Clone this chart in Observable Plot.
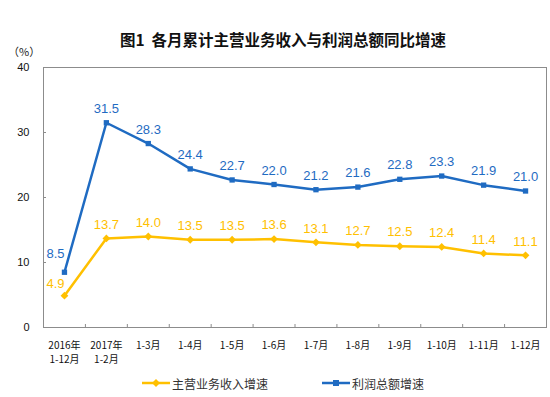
<!DOCTYPE html>
<html><head><meta charset="utf-8">
<script src="https://cdn.jsdelivr.net/npm/d3@7"></script>
<script src="https://cdn.jsdelivr.net/npm/@observablehq/plot@0.6"></script>
<style>
body{margin:0;background:#fff;}
#wrap{position:relative;width:550px;height:397px;font-family:"Liberation Sans",Arial,sans-serif;overflow:hidden;}
#title{position:absolute;left:8px;width:550px;top:29px;text-align:center;font:bold 15.5px "Noto Sans CJK SC";color:#111;line-height:20px;}
#unit{position:absolute;left:8px;top:45px;font:11px "Noto Sans CJK SC";color:#222;line-height:13px;}
#legend{position:absolute;left:0;top:374px;width:550px;height:18px;font:12px "Noto Sans CJK SC";color:#333;}
#legend .it{position:absolute;top:0;display:flex;align-items:center;}
#legend svg{margin-right:2px;}
</style></head>
<body><div id="wrap">
<div id="chart"></div>
<div id="title">图1&nbsp;&nbsp;各月累计主营业务收入与利润总额同比增速</div>
<div id="unit">（%）</div>
<div id="legend"></div>
</div>
<script>
const categories = ["2016年\n1-12月","2017年\n1-2月","1-3月","1-4月","1-5月","1-6月","1-7月","1-8月","1-9月","1-10月","1-11月","1-12月"];
const revenue = [4.9,13.7,14.0,13.5,13.5,13.6,13.1,12.7,12.5,12.4,11.4,11.1];
const profit = [8.5,31.5,28.3,24.4,22.7,22.0,21.2,21.6,22.8,23.3,21.9,21.0];
const yTicks = [0,10,20,30,40];
const seriesNames = ["主营业务收入增速","利润总额增速"];
const yellow = "#FFC000", blue = "#1F6BC2";

const n = categories.length;
const idx = categories.map((_, i) => i);
const rows = idx.map(i => ({i, rev: revenue[i], pro: profit[i]}));
const bounds = d3.range(0.5, n - 1, 1);

const plot = Plot.plot({
  width: 550, height: 397,
  marginLeft: 43, marginRight: 4, marginTop: 67, marginBottom: 70,
  x: {type: "linear", domain: [-0.5, n - 0.5]},
  y: {domain: [0, 40]},
  style: {fontFamily: "'Liberation Sans', Arial, sans-serif", fontSize: "11px", color: "#111", background: "white"},
  marks: [
    Plot.frame({stroke: "#8c8c8c"}),
    Plot.axisY({ticks: yTicks, tickSize: -3, tickPadding: 17, tickFormat: d => d, stroke: "#8c8c8c", fill: "#111", label: null}),
    Plot.axisX({ticks: bounds, tickSize: -3, tickFormat: () => "", stroke: "#8c8c8c", label: null}),
    Plot.text(rows, {x: "i", text: d => categories[d.i], frameAnchor: "bottom", lineAnchor: "top", dy: 12, lineHeight: 1.35, fontSize: 10, fill: "#111", fontFamily: "'Noto Sans CJK SC'"}),
    Plot.lineY(rows, {x: "i", y: "pro", stroke: blue, strokeWidth: 2.5}),
    Plot.lineY(rows, {x: "i", y: "rev", stroke: yellow, strokeWidth: 2.5}),
    Plot.dot(rows, {x: "i", y: "pro", symbol: "square", r: 3, fill: blue}),
    Plot.dot(rows, {x: "i", y: "rev", symbol: "diamond2", r: 3.5, fill: yellow}),
    Plot.text(rows.slice(1), {x: "i", y: "pro", text: d => d.pro.toFixed(1), dy: -14, fill: blue, fontSize: 13}),
    Plot.text(rows.slice(1), {x: "i", y: "rev", text: d => d.rev.toFixed(1), dy: -14, fill: yellow, fontSize: 13}),
    Plot.text(rows.slice(0, 1), {x: "i", y: "pro", text: d => d.pro.toFixed(1), dy: -18, dx: -9, fill: blue, fontSize: 13}),
    Plot.text(rows.slice(0, 1), {x: "i", y: "rev", text: d => d.rev.toFixed(1), dy: -12, dx: -9, fill: yellow, fontSize: 13})
  ]
});
document.getElementById("chart").appendChild(plot);

const legend = document.getElementById("legend");
const items = [
  {name: seriesNames[0], color: yellow, shape: "diamond", left: 142},
  {name: seriesNames[1], color: blue, shape: "square", left: 322}
];
for (const it of items) {
  const div = document.createElement("div");
  div.className = "it";
  div.style.left = it.left + "px";
  const marker = it.shape === "square"
    ? `<rect x="11" y="6" width="6" height="6" fill="${it.color}"/>`
    : `<path d="M14,5 L18,9 L14,13 L10,9 Z" fill="${it.color}"/>`;
  div.innerHTML = `<svg width="28" height="18"><line x1="0" x2="28" y1="9" y2="9" stroke="${it.color}" stroke-width="2.5"/>${marker}</svg><span>${it.name}</span>`;
  legend.appendChild(div);
}
</script>
</body></html>
